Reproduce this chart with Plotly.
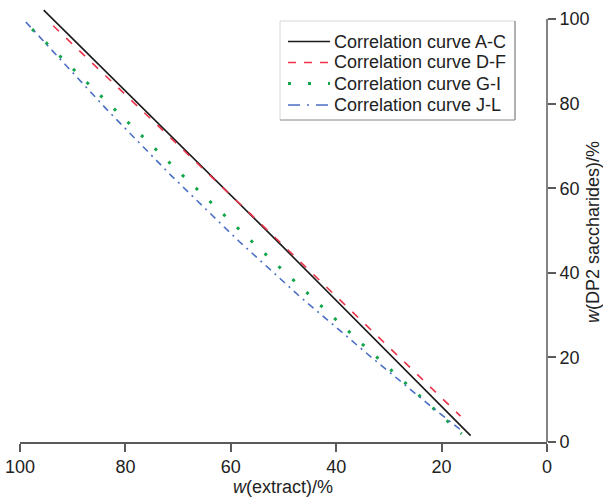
import plotly.graph_objects as go

# Data
names = ["Correlation curve A-C", "Correlation curve D-F", "Correlation curve G-I", "Correlation curve J-L"]
colors = ["#1a1a1a", "#ec3148", "#12a54a", "#4a6fc4"]
widths = [1.6, 1.6, 3, 1.6]

ac_x = [95.5, 50.0, 14.5]
ac_y = [102.1, 46.0, 1.5]

df_x = [93.7, 51.3, 16.4]
df_y = [98.4, 48.0, 6.1]

gi_x = [97.7, 82.1, 69.2, 56.0, 45.6, 35.0, 26.9, 16.2]
gi_y = [97.6, 78.7, 63.1, 47.4, 35.3, 23.1, 14.0, 1.9]

jl_x = [98.9, 92.7, 83.6, 71.4, 58.4, 46.9, 33.3, 21.6, 15.9]
jl_y = [99.3, 91.0, 78.7, 63.1, 47.4, 34.4, 20.0, 8.0, 2.4]

x_ticks = [100, 80, 60, 40, 20, 0]
y_ticks = [0, 20, 40, 60, 80, 100]

FONT = "Liberation Sans, Arial, sans-serif"
AXC = "#5a5a5a"

# figure fills the whole page (body margin removed after drawing)
W, H = 603, 498
ML, MR, MT, MB = 20, 56, 8, 56
PW, PH = W - ML - MR, H - MT - MB
YTOP = 102.6


def px(page_x):
    return (page_x - ML) / PW


def py(page_y):
    return (H - MB - page_y) / PH


series = [(ac_x, ac_y), (df_x, df_y), (gi_x, gi_y), (jl_x, jl_y)]
inplot_dash = ["solid", "8px,10px", "3px,16px", "7px,5px,2px,5px"]
legend_dash = ["solid", "8px,8px", "3px,17px", "12px,7px,2px,7px"]

fig = go.Figure()
for (xs, ys), n, c, d, w in zip(series, names, colors, inplot_dash, widths):
    fig.add_trace(go.Scatter(x=xs, y=ys, mode="lines", name=n, showlegend=False,
                             line=dict(color=c, width=w, dash=d)))

shapes = [dict(type="line", xref="paper", yref="y", x0=1, x1=1, y0=0, y1=100,
               line=dict(color=AXC, width=1.5))]
annotations = [
    dict(text="<i>w</i>(DP2 saccharides)/%", xref="paper", yref="paper",
         x=px(593), y=py(232), textangle=-90, showarrow=False,
         xanchor="center", yanchor="middle", font=dict(size=18, color="#222")),
    dict(text="<i>w</i>(extract)/%", xref="paper", yref="paper",
         x=px(283), y=py(487), showarrow=False,
         xanchor="center", yanchor="middle", font=dict(size=18, color="#222")),
]

# custom legend box
box_l, box_r, box_t, box_b = 280, 515, 21, 120
shapes.append(dict(type="rect", xref="paper", yref="paper", x0=px(box_l), x1=px(box_r),
                   y0=py(box_b), y1=py(box_t), fillcolor="white",
                   line=dict(color="#d8d8d8", width=1), layer="above"))
shapes.append(dict(type="line", xref="paper", yref="paper", x0=px(box_r), x1=px(box_r),
                   y0=py(box_b), y1=py(box_t), line=dict(color="#8a8a8a", width=1.2), layer="above"))
shapes.append(dict(type="line", xref="paper", yref="paper", x0=px(box_l), x1=px(box_r),
                   y0=py(box_b), y1=py(box_b), line=dict(color="#9a9a9a", width=1.2), layer="above"))
rows = [41.5, 62.5, 83.5, 105]
for n, c, d, w, ry in zip(names, colors, legend_dash, widths, rows):
    shapes.append(dict(type="line", xref="paper", yref="paper", x0=px(288), x1=px(330),
                       y0=py(ry), y1=py(ry), line=dict(color=c, width=w, dash=d), layer="above"))
    annotations.append(dict(text=n, xref="paper", yref="paper", x=px(332), y=py(ry),
                            showarrow=False, xanchor="left", yanchor="middle",
                            font=dict(size=18, color="#222")))

fig.update_layout(
    width=W, height=H,
    margin=dict(l=ML, r=MR, t=MT, b=MB),
    paper_bgcolor="white", plot_bgcolor="white",
    font=dict(family=FONT, size=18, color="#222"),
    showlegend=False,
    xaxis=dict(range=[100, 0], tickvals=x_ticks, ticks="outside", ticklen=8,
               tickwidth=1.5, tickcolor=AXC, showline=True, linecolor=AXC, linewidth=1.5,
               showgrid=False, zeroline=False, automargin=False,
               ticklabeloverflow="allow"),
    yaxis=dict(range=[0, YTOP], tickvals=y_ticks, side="right", ticks="outside", ticklen=8,
               tickwidth=1.5, tickcolor=AXC, showline=False, showgrid=False, zeroline=False,
               automargin=False, ticklabeloverflow="allow"),
    shapes=shapes,
    annotations=annotations,
)

fig.write_html("out.html", config={"displayModeBar": False},
               post_script="document.body.style.margin='0px';document.body.style.overflow='hidden';")
